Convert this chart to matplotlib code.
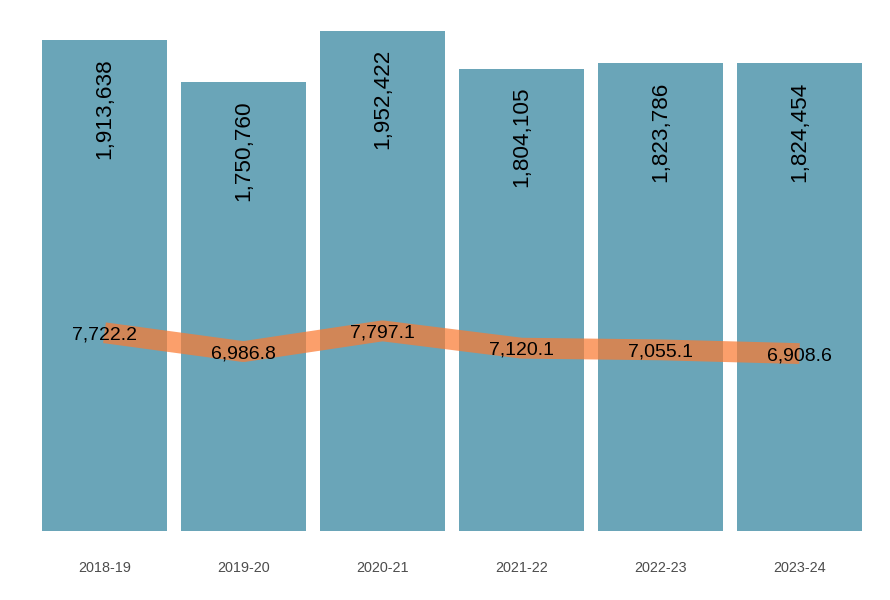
import matplotlib
matplotlib.use("Agg")
import matplotlib.pyplot as plt

plt.rcParams['font.family'] = ['Liberation Sans', 'DejaVu Sans']

# data
years = ["2018-19", "2019-20", "2020-21", "2021-22", "2022-23", "2023-24"]
bar_values = [1913638, 1750760, 1952422, 1804105, 1823786, 1824454]
line_values = [7722.2, 6986.8, 7797.1, 7120.1, 7055.1, 6908.6]

bar_color = "#6AA5B8"
line_color = "#FA7A32"

fig = plt.figure(figsize=(8.9, 6.0), dpi=100)
ax = fig.add_axes([0.0237, 0.1158, 0.9683, 0.8675])

x = list(range(len(years)))
ax.bar(x, bar_values, width=0.9, color=bar_color, zorder=1)
for i, v in enumerate(bar_values):
    ax.annotate(f"{v:,}", xy=(i, v), xytext=(0, -13), textcoords="offset points",
                rotation=90, ha="center", va="top", fontsize=16.2, color="black")

ax.set_xlim(-0.6, len(years) - 0.4)
ymax = 2032500
ax.set_ylim(0, ymax)
ax.set_xticks(x)
ax.set_xticklabels(years, fontsize=10.4, color="#4D4D4D")
ax.tick_params(axis="x", length=0, pad=22)
ax.set_yticks([])
for s in ax.spines.values():
    s.set_visible(False)

# secondary axis for the line
ax2 = ax.twinx()
ax2.set_ylim(0, ymax / 100)
ax2.plot(x, line_values, color=line_color, alpha=0.72, lw=15,
         solid_capstyle="butt", solid_joinstyle="round", zorder=2)
for i, v in enumerate(line_values):
    ax2.text(i, v, f"{v:,.1f}", ha="center", va="center_baseline", fontsize=14,
             color="black", zorder=3)
ax2.set_yticks([])
for s in ax2.spines.values():
    s.set_visible(False)

fig.savefig("out.png", dpi=100)
